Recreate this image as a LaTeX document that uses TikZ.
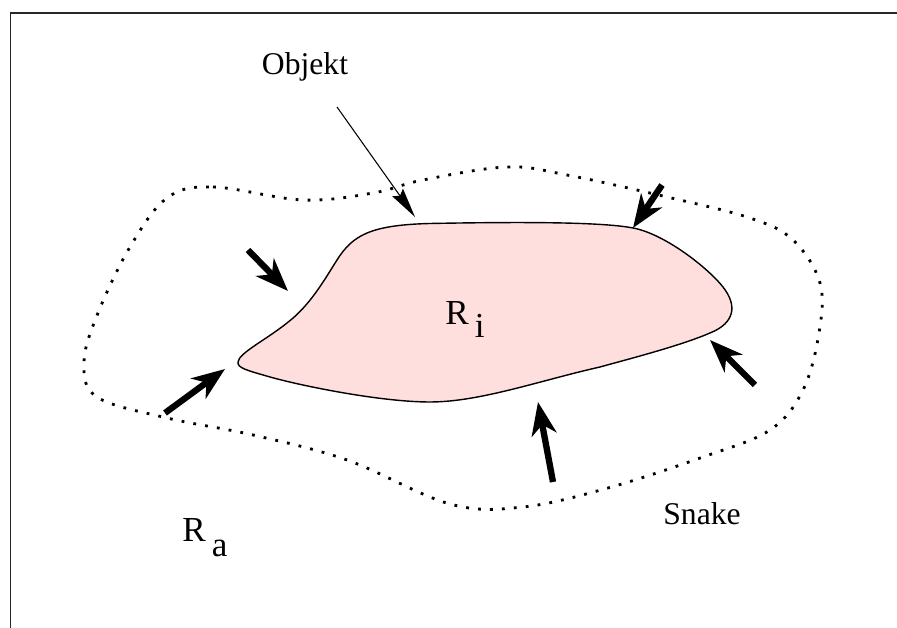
\documentclass[tikz,border=0pt]{standalone}
\usepackage{fontspec}
\setmainfont{Liberation Serif}
\usetikzlibrary{arrows.meta}
\definecolor{objpink}{RGB}{255,222,222}
\tikzset{
	force/.style={line width=3.6pt, -{Stealth[length=0.66cm, width=0.5cm, inset=0.2cm]}},
	pointer/.style={line width=0.6pt, -{Stealth[length=0.6cm, width=0.26cm, inset=0.08cm]}},
	snakeline/.style={line width=1.6pt, dash pattern=on 1.6pt off 5.2pt},
	lbl/.style={inner sep=0pt, font=\fontsize{18}{20}\selectfont},
	rlbl/.style={inner sep=0pt, font=\fontsize{20}{22}\selectfont}
}
\begin{document}
\begin{tikzpicture}
	\useasboundingbox (0,0) rectangle (17.94,12.56);
	% frame
	\draw[line width=0.6pt, black!85] (0.21,0) -- (0.21,12.30) -- (17.94,12.30);
	
	% object
	\draw[line width=0.8pt, fill=objpink] (4.76,5.32)
		.. controls (4.78,5.50) and (5.30,5.75) .. (5.74,6.10)
		.. controls (6.20,6.45) and (6.48,6.95) .. (6.74,7.36)
		.. controls (7.05,7.85) and (7.40,8.06) .. (8.60,8.09)
		.. controls (10.20,8.12) and (12.00,8.13) .. (12.66,8.00)
		.. controls (13.30,7.88) and (14.16,7.20) .. (14.46,6.82)
		.. controls (14.75,6.45) and (14.70,6.10) .. (14.20,5.90)
		.. controls (13.60,5.64) and (12.50,5.36) .. (12.00,5.22)
		.. controls (10.80,4.95) and (9.60,4.52) .. (8.60,4.52)
		.. controls (7.60,4.52) and (6.00,4.85) .. (5.40,5.02)
		.. controls (4.95,5.15) and (4.74,5.20) .. cycle;
	
	% snake
	\draw[snakeline] plot[smooth cycle, tension=0.6] coordinates {
		(3.34,8.60) (4.26,8.82) (6.06,8.56) (7.46,8.70) (8.46,8.96) (10.14,9.22)
		(11.34,9.06) (13.34,8.62) (15.00,8.20) (15.86,7.76) (16.40,6.90)
		(16.38,5.90) (16.06,4.76) (15.40,3.96) (14.06,3.42) (12.16,2.80)
		(10.46,2.42) (9.00,2.48) (6.94,3.36) (5.06,3.86) (3.34,4.20)
		(1.94,4.62) (1.68,5.32) (1.96,6.30) (2.60,7.62)};
	
	\node[lbl, anchor=base] (objekt) at (6.10,11.06){Objekt};
	\node[lbl, anchor=base] (snake) at (14.04,2.06){Snake};
	\node[rlbl, anchor=base west] (ri) at (8.90,6.06){R\hspace{0.12cm}\raisebox{-0.26cm}{i}};
	\node[rlbl, anchor=base west] (ra) at (3.64,1.72){R\hspace{0.12cm}\raisebox{-0.30cm}{a}};
	
	\coordinate (objtail) at (6.74,10.42);
	\coordinate (objtip) at (8.30,8.22);
	\draw[pointer] (objtail) to (objtip);
	
	% forces on the contour
	\coordinate (f1a) at (4.96,7.56);  \coordinate (f1b) at (5.76,6.74);
	\coordinate (f2a) at (3.30,4.30);  \coordinate (f2b) at (4.50,5.18);
	\coordinate (f3a) at (13.24,8.86); \coordinate (f3b) at (12.66,8.00);
	\coordinate (f4a) at (15.10,4.86); \coordinate (f4b) at (14.20,5.76);
	\coordinate (f5a) at (11.06,2.92); \coordinate (f5b) at (10.76,4.52);
	\foreach \s/\t in {f1a/f1b, f2a/f2b, f3a/f3b, f4a/f4b, f5a/f5b}
		\draw[force] (\s) to (\t);
\end{tikzpicture}
\end{document}
